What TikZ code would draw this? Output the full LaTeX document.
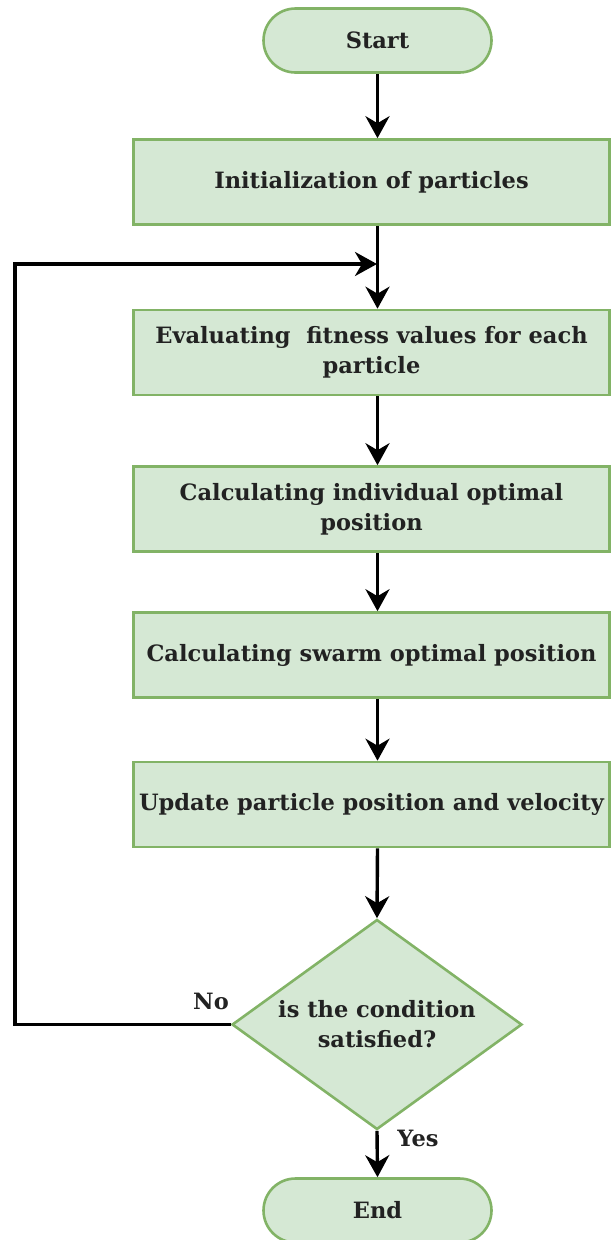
\documentclass[tikz,border=0pt]{standalone}
\usepackage{fontspec}
\setmainfont{DejaVu Serif}
\usetikzlibrary{shapes.geometric,arrows.meta}
\definecolor{boxfill}{HTML}{D5E8D4}
\definecolor{boxline}{HTML}{82B366}
\definecolor{ink}{HTML}{222222}
\begin{document}
\begin{tikzpicture}[x=1pt,y=-1pt,
  every node/.style={font=\bfseries\fontsize{22.5}{30}\selectfont, text=ink},
  stepbox/.style={draw=boxline, fill=boxfill, line width=2.6pt,
    minimum width=476pt, minimum height=85pt, align=center, inner sep=0pt},
  terminal/.style={draw=boxline, fill=boxfill, line width=2.6pt,
    rounded corners=32pt, minimum width=228pt, minimum height=64pt},
  decision/.style={diamond, draw=boxline, fill=boxfill, line width=2.6pt,
    minimum width=290pt, minimum height=210pt, inner sep=0pt},
  flow/.style={-{Stealth[length=22pt,width=24pt,inset=7pt]}, line width=3.4pt},
  lbl/.style={font=\bfseries\fontsize{22.5}{26}\selectfont}]
\useasboundingbox (0,0) rectangle (611,1240);

% process steps
\node[terminal] (start) at (377.5,40.5) {Start};
\node[stepbox] (init) at (371.5,182) {Initialization of particles};
\node[stepbox] (eval) at (371.5,352.5) {Evaluating\ \ fitness values for each\\particle};
\node[stepbox] (indiv) at (371.5,509) {Calculating individual optimal\\position};
\node[stepbox] (swarm) at (371.5,655) {Calculating swarm optimal position};
\node[stepbox] (update) at (371.5,804.5) {Update particle position and velocity};
\node[decision, label={[align=center]center:is the condition\\satisfied?}]
  (cond) at (377,1024.5) {};
\node[terminal] (finish) at (377.5,1210.5) {End};

% loop geometry
\coordinate (merge) at (377,264);
\coordinate (loopx) at (15,264);

% connectors
\draw[flow] (start.south) -- (start.south |- init.north);
\draw[flow] (start.south |- init.south) -- (start.south |- eval.north);
\draw[flow] (start.south |- eval.south) -- (start.south |- indiv.north);
\draw[flow] (start.south |- indiv.south) -- (start.south |- swarm.north);
\draw[flow] (start.south |- swarm.south) -- (start.south |- update.north);
\draw[flow] (start.south |- update.south) -- (cond.north);
\draw[flow] (cond.south) -- (finish.north);
\draw[flow] (cond.west) -| (loopx) -- (merge);

% branch labels
\node[lbl] (nolbl) at (211,1001) {No};
\node[lbl] (yeslbl) at (418,1138) {Yes};
\end{tikzpicture}
\end{document}
